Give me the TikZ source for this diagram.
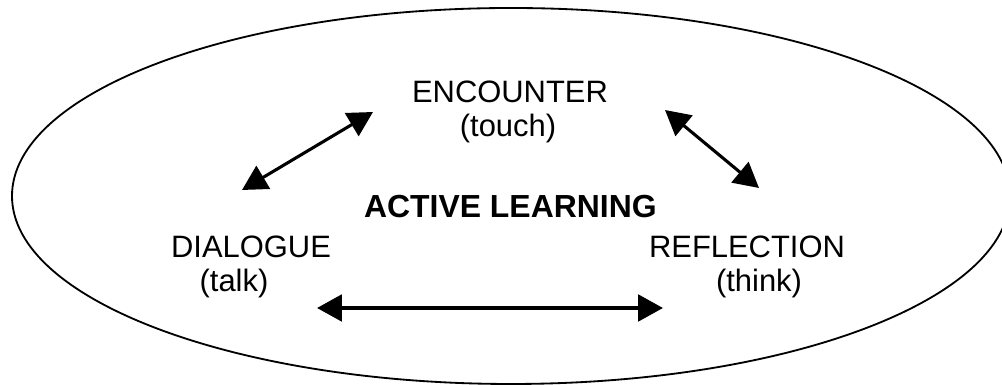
\documentclass[tikz,border=0pt]{standalone}
\usepackage{fontspec}
\setmainfont{Liberation Sans}
\usetikzlibrary{arrows.meta}
\begin{document}
\begin{tikzpicture}[
  word/.style={anchor=base,inner sep=0pt,font=\fontsize{22}{26}\selectfont},
  both/.style={{Triangle[length=0.62cm,width=0.66cm]}-{Triangle[length=0.62cm,width=0.66cm]},line width=2.2pt}
]
\useasboundingbox (0,0) rectangle (25.05,9.625);
\draw[line width=1.3pt] (12.775,4.725) ellipse [x radius=12.475,y radius=4.7];
\node at (12.75,7.05) [word] (enc) {ENCOUNTER};
\node at (12.7,6.2) [word] (touch) {(touch)};
\node at (12.76,4.175) [word,font=\fontsize{22.7}{26}\selectfont\bfseries] (act) {ACTIVE LEARNING};
\node at (6.275,3.175) [word] (dia) {DIALOGUE};
\node at (5.85,2.325) [word] (talk) {(talk)};
\node at (18.675,3.175) [word] (ref) {REFLECTION};
\node at (18.975,2.325) [word] (think) {(think)};
\coordinate (dia-up) at (6.05,4.875);
\coordinate (enc-left) at (9.325,6.825);
\coordinate (enc-right) at (16.625,6.875);
\coordinate (ref-up) at (18.975,4.925);
\coordinate (dia-low) at (7.925,1.925);
\coordinate (ref-low) at (16.575,1.925);
\draw[both] (dia-up) -- (enc-left);
\draw[both] (enc-right) -- (ref-up);
\draw[both,line width=2.6pt] (dia-low) -- (ref-low);
\end{tikzpicture}
\end{document}
